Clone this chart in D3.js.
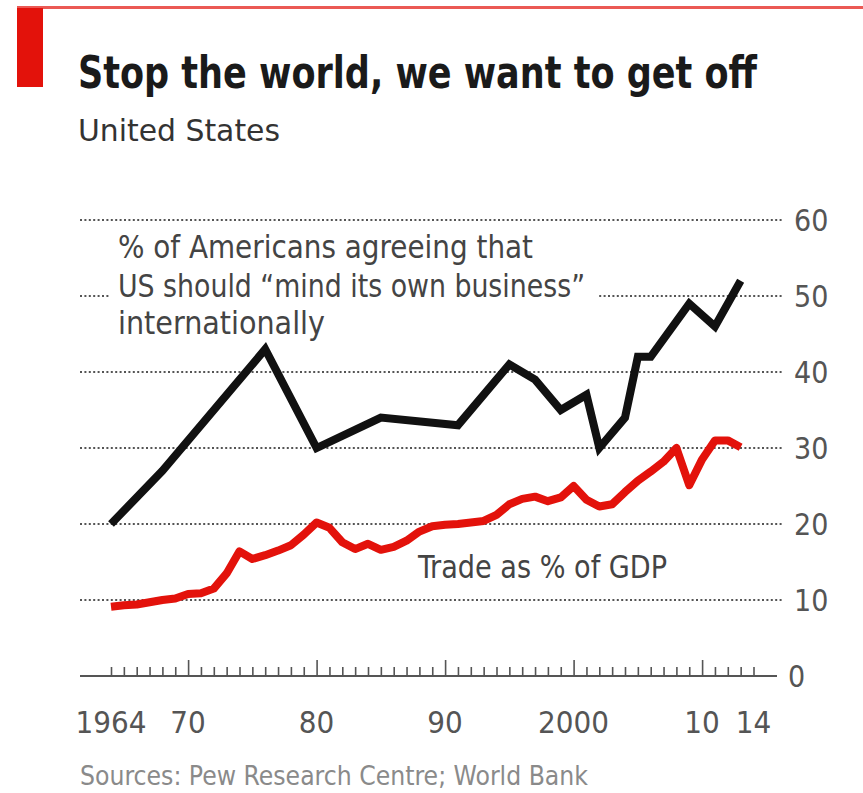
<!DOCTYPE html>
<html>
<head>
<meta charset="utf-8">
<script src="https://cdnjs.cloudflare.com/ajax/libs/d3/7.8.5/d3.min.js"></script>
<style>
  html, body { margin: 0; padding: 0; background: #fff; }
  svg { display: block; }
  text { font-family: "Liberation Sans Narrow", "DejaVu Sans Condensed", "Roboto", sans-serif; }
</style>
</head>
<body>
<svg id="chart" width="863" height="793"></svg>
<script>
// ---- Data ----
const pewYears  = [1964, 1968, 1976, 1980, 1985, 1991, 1995, 1997, 1999, 2001, 2002, 2004, 2005, 2006, 2009, 2011, 2013];
const pewValues = [20,   27,   43,   30,   34,   33,   41,   39,   35,   37,   30,   34,   42,   42,   49,   46,   52];

const tradeYears  = d3.range(1964, 2014);
const tradeValues = [9.1, 9.3, 9.4, 9.7, 10.0, 10.2, 10.8, 10.9, 11.5, 13.5,
                     16.4, 15.4, 15.9, 16.5, 17.2, 18.6, 20.2, 19.5, 17.6, 16.7,
                     17.4, 16.6, 17.0, 17.8, 19.0, 19.7, 19.9, 20.0, 20.2, 20.4,
                     21.2, 22.6, 23.3, 23.6, 23.0, 23.5, 25.0, 23.2, 22.3, 22.6,
                     24.2, 25.7, 26.9, 28.2, 30.0, 25.1, 28.5, 31.0, 31.0, 30.1];

const yTicks = [0, 10, 20, 30, 40, 50, 60];
const xTickLabels = [
  {year: 1964, label: "1964"}, {year: 1970, label: "70"}, {year: 1980, label: "80"},
  {year: 1990, label: "90"}, {year: 2000, label: "2000"}, {year: 2010, label: "10"},
  {year: 2014, label: "14"}
];
const title = "Stop the world, we want to get off";
const subtitle = "United States";
const pewLabel = ["% of Americans agreeing that", "US should \u201cmind its own business\u201d", "internationally"];
const tradeLabel = "Trade as % of GDP";
const source = "Sources: Pew Research Centre; World Bank";

// ---- Setup ----
const svg = d3.select("#chart");
const red = "#e3120b";
const x = d3.scaleLinear().domain([1964, 2014]).range([111, 753.5]);
const y = d3.scaleLinear().domain([0, 60]).range([676, 220]);
const gridX0 = 80, gridX1 = 782;

svg.append("rect").attr("width", 863).attr("height", 793).attr("fill", "#fff");

// top rule & red tab
svg.append("rect").attr("x", 17).attr("y", 6).attr("width", 846).attr("height", 3).attr("fill", red).attr("opacity", 0.7);
svg.append("rect").attr("x", 17).attr("y", 8).attr("width", 26).attr("height", 79).attr("fill", red);

// title
svg.append("text").attr("x", 78).attr("y", 88)
  .attr("font-size", 44).attr("font-weight", "bold").attr("fill", "#1a1a1a")
  .attr("textLength", 679).attr("lengthAdjust", "spacingAndGlyphs")
  .text(title);
svg.append("text").attr("x", 78).attr("y", 141)
  .attr("font-size", 31).attr("fill", "#333")
  .attr("textLength", 202).attr("lengthAdjust", "spacingAndGlyphs")
  .text(subtitle);

// gridlines (dotted)
const grid = svg.append("g");
grid.selectAll("line").data(yTicks.filter(d => d > 0)).join("line")
  .attr("x1", gridX0).attr("x2", gridX1)
  .attr("y1", d => y(d)).attr("y2", d => y(d))
  .attr("stroke", "#555").attr("stroke-width", 2)
  .attr("stroke-dasharray", "2,2.4");

// y tick labels (right)
svg.append("g").selectAll("text").data(yTicks).join("text")
  .attr("x", d => d === 0 ? 788 : 794)
  .attr("y", d => y(d))
  .attr("dy", "0.36em")
  .attr("font-size", 30).attr("fill", "#555")
  .text(d => d);

// x axis via d3 axis
const minorTicks = d3.range(1964, 2015);
const axisG = svg.append("g").attr("transform", `translate(0,${y(0)})`);
axisG.append("line").attr("x1", gridX0).attr("x2", 777).attr("y1", 0).attr("y2", 0)
  .attr("stroke", "#555").attr("stroke-width", 2);
const axis = d3.axisTop(x).tickValues(minorTicks).tickSize(9).tickFormat("");
const ag = axisG.append("g").call(axis);
ag.select(".domain").remove();
ag.selectAll(".tick line").attr("stroke", "#555").attr("stroke-width", 1.6)
  .attr("y2", d => d % 10 === 0 ? -16 : -9);

// x labels
svg.append("g").selectAll("text").data(xTickLabels).join("text")
  .attr("x", d => x(d.year)).attr("y", 733)
  .attr("text-anchor", "middle")
  .attr("font-size", 31).attr("fill", "#555")
  .text(d => d.label);

// pew annotation with knockout
const ann = svg.append("g");
const annY = [258, 297, 334];
const annW = [415, 467, 207];
pewLabel.forEach((t, i) => {
  if (i === 1) {
    ann.append("rect").attr("x", 110).attr("y", annY[i] - 26).attr("width", annW[i] + 20).attr("height", 36).attr("fill", "#fff");
  }
  ann.append("text").attr("x", 118).attr("y", annY[i])
    .attr("font-size", 32).attr("fill", "#444")
    .attr("textLength", annW[i]).attr("lengthAdjust", "spacingAndGlyphs")
    .text(t);
});

// lines
const line = d3.line().x(d => x(d[0])).y(d => y(d[1])).curve(d3.curveLinear);
svg.append("path").datum(tradeYears.map((yr, i) => [yr, tradeValues[i]]))
  .attr("d", line).attr("fill", "none").attr("stroke", red)
  .attr("stroke-width", 8).attr("stroke-linejoin", "round");
svg.append("path").datum(pewYears.map((yr, i) => [yr, pewValues[i]]))
  .attr("d", line).attr("fill", "none").attr("stroke", "#111")
  .attr("stroke-width", 8).attr("stroke-linejoin", "miter");

// trade label
svg.append("text").attr("x", 418).attr("y", 578)
  .attr("font-size", 32).attr("fill", "#444")
  .attr("textLength", 249).attr("lengthAdjust", "spacingAndGlyphs")
  .text(tradeLabel);

// source
svg.append("text").attr("x", 80).attr("y", 785)
  .attr("font-size", 27).attr("fill", "#8a8a8a")
  .attr("textLength", 508).attr("lengthAdjust", "spacingAndGlyphs")
  .text(source);
</script>
</body>
</html>
